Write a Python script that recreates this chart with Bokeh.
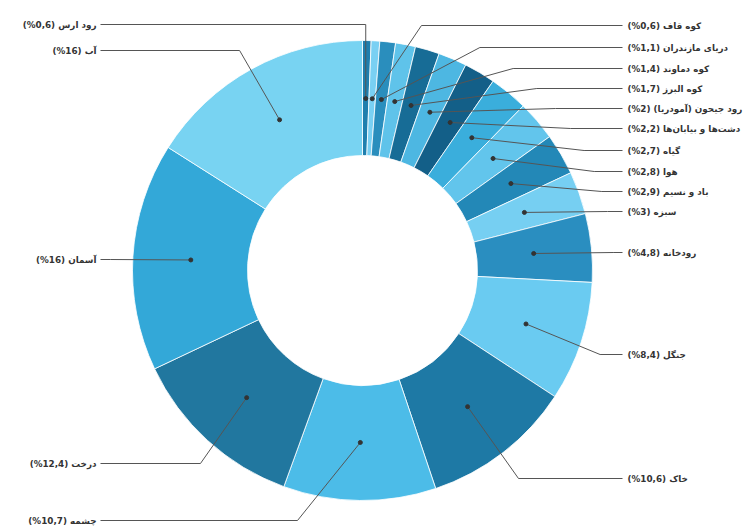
import math
from bokeh.plotting import figure
from bokeh.models import Range1d, ColumnDataSource
from bokeh.core.properties import value
from bokeh.embed import file_html
from bokeh.resources import INLINE

# ---- data (clockwise from 12 o'clock) ----
names = ["رود ارس", "کوه قاف", "دریای مازندران", "کوه دماوند", "کوه البرز",
         "رود جیحون (آمودریا)", "دشت‌ها و بیابان‌ها", "گیاه", "هوا", "باد و نسیم",
         "سبزه", "رودخانه", "جنگل", "خاک", "چشمه", "درخت", "آسمان", "آب"]
values = [0.6, 0.6, 1.1, 1.4, 1.7, 2.0, 2.2, 2.7, 2.8, 2.9, 3.0, 4.8, 8.4,
          10.6, 10.7, 12.4, 16.0, 16.0]
pct_text = ["0,6", "0,6", "1,1", "1,4", "1,7", "2", "2,2", "2,7", "2,8", "2,9",
            "3", "4,8", "8,4", "10,6", "10,7", "12,4", "16", "16"]
colors = ["#1f7fae", "#79d0f3", "#2a8ebd", "#5fc3ea", "#176c96", "#4db7e2",
          "#135f88", "#3aaedc", "#62c5ec", "#2388b7", "#76cff2", "#2a8ec0",
          "#6acbf1", "#1e79a5", "#4cbce8", "#21779f", "#33a8d8", "#78d3f2"]

# ---- layout (reference pixel space) ----
W, H = 750, 529
def Y(py):
    return H - py

cx, cy = 362, 270
r_out, r_in = 230, 115
r_dot = 172
r_elbow = 252

side = ["L", "R", "R", "R", "R", "R", "R", "R", "R", "R", "R", "R", "R", "R",
        "L", "L", "L", "L"]
label_py = [24, 25, 47, 68, 88, 108, 128, 150, 171, 191, 211, 252, 354, 478,
            520, 463, 259, 50]

total = sum(values)
starts, ends, mids = [], [], []
acc = 0.0
for v in values:
    a0 = acc / total * 2 * math.pi
    acc += v
    a1 = acc / total * 2 * math.pi
    starts.append(math.pi / 2 - a1)
    ends.append(math.pi / 2 - a0)
    mids.append((a0 + a1) / 2)

p = figure(width=W, height=H, output_backend="svg", toolbar_location=None,
           x_range=Range1d(0, W), y_range=Range1d(0, H), min_border=0)
p.axis.visible = False
p.grid.visible = False
p.outline_line_color = None
p.background_fill_color = "white"

src = ColumnDataSource(dict(start=starts, end=ends, color=colors))
p.annular_wedge(x=cx, y=Y(cy), inner_radius=r_in, outer_radius=r_out,
                start_angle="start", end_angle="end", fill_color="color",
                line_color="white", line_width=0.8, source=src)

dot_x, dot_y, xs, ys = [], [], [], []
lab_x, lab_y, lab_txt, lab_align = [], [], [], []
for i, nm in enumerate(names):
    th = mids[i]
    dx = cx + r_dot * math.sin(th)
    dy = cy - r_dot * math.cos(th)
    ly = label_py[i]
    s = 1 if side[i] == "R" else -1
    h = ly - cy
    if abs(h) < r_elbow:
        ex = cx + s * math.sqrt(r_elbow ** 2 - h ** 2)
    else:
        ex = dx
    if i == 0:
        ex = dx
    if i == 14:
        ex = 297
    if i == 13:
        ex = 518
    endx = 622 if s == 1 else 100
    dot_x.append(dx)
    dot_y.append(Y(dy))
    xs.append([dx, ex, endx])
    ys.append([Y(dy), Y(ly), Y(ly)])
    lab_x.append(627 if s == 1 else 96)
    lab_y.append(Y(ly))
    lab_align.append("left" if s == 1 else "right")
    lab_txt.append("\u202B" + nm + " (" + pct_text[i] + "%)\u202C")

p.multi_line(xs=xs, ys=ys, line_color="#555555", line_width=1)
p.scatter(x=dot_x, y=dot_y, size=4, color="#333333")
tsrc = ColumnDataSource(dict(x=lab_x, y=lab_y, t=lab_txt, a=lab_align))
p.text(x="x", y="y", text="t", text_align="a", text_baseline="middle",
       text_font=value("DejaVu Sans"), text_font_style="bold",
       text_font_size="8.8px", text_color="#333333", source=tsrc)

open("out.html", "w").write(file_html(p, INLINE))
